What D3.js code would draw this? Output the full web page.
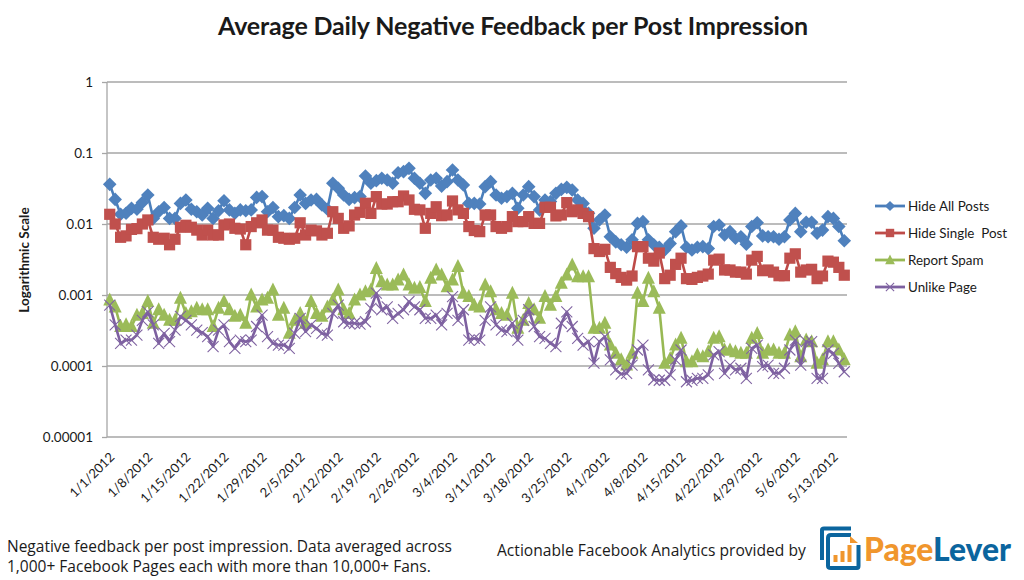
<!DOCTYPE html>
<html>
<head>
<meta charset="utf-8">
<script src="https://cdn.jsdelivr.net/npm/d3@7"></script>
<style>
  html, body { margin: 0; padding: 0; background: #fff; }
  svg { display: block; }
  text { font-family: Lato, "Open Sans", sans-serif; fill: #1a1a1a; }
  .note { font-family: "Open Sans", sans-serif; }
</style>
</head>
<body>
<svg id="chart" width="1024" height="580"></svg>
<script>
// values, one per day from 1/1/2012
const startDate = Date.UTC(2012, 0, 1);
const dayCount = 136;
const hideAllPosts = [
  .0362,.0222,.0137,.0142,.0166,.0161,.0201,.0256,.012,.0149,.0171,.012,.012,.0195,.0218,.0161,.0149,.0134,.0166,.012,
  .0154,.0213,.0158,.0142,.0158,.0154,.0158,.0237,.0243,.0149,.0171,.0127,.0131,.012,.0171,.0256,.0195,.0218,.0222,.0185,
  .0161,.0375,.0318,.0256,.0222,.0235,.0243,.0474,.0375,.0408,.044,.0417,.0375,.0528,.0546,.0608,.044,.0375,.027,.0417,
  .044,.0342,.0395,.0576,.0417,.0354,.0195,.0195,.0191,.0336,.0395,.0256,.023,.0243,.027,.0166,.0256,.0336,.0243,.0158,
  .0218,.0207,.027,.0307,.0328,.0301,.0218,.0195,.0142,.0087,.0114,.0134,.0066,.0056,.0051,.0047,.006,.0102,.0108,.006,
  .0051,.0047,.0043,.0053,.0078,.0094,.0047,.0043,.0047,.0048,.0045,.0092,.0097,.007,.0078,.0063,.0066,.0052,.0092,.0104,
  .0068,.0066,.0066,.0061,.0066,.0114,.0141,.0078,.0106,.0106,.0074,.0082,.0127,.012,.0092,.0058
];
const hideSinglePost = [
  .0137,.01,.0065,.0068,.0084,.0086,.01,.0114,.0065,.0061,.0063,.0051,.0061,.009,.0096,.009,.0082,.007,.0082,.007,
  .007,.0097,.01,.0087,.0085,.0051,.0092,.0104,.0114,.0082,.0082,.0065,.0063,.0061,.0063,.0104,.007,.0082,.008,.007,
  .0074,.0149,.012,.0087,.0094,.0134,.0146,.0196,.0141,.0243,.0191,.0191,.0206,.0206,.0248,.0218,.0161,.0158,.0087,.0141,
  .0175,.0131,.0134,.0211,.0158,.0141,.0092,.0081,.0078,.0134,.0134,.0092,.0087,.0092,.0127,.0108,.0108,.0127,.0102,.0102,
  .0172,.0172,.013,.0134,.02,.0149,.0158,.0141,.0127,.0045,.0041,.0044,.00245,.002,.00177,.00162,.00185,.0048,.0048,.0033,
  .003,.0039,.0017,.0019,.0027,.0033,.0017,.00166,.00177,.00185,.00197,.0031,.0032,.00225,.00225,.0021,.0021,.00197,.0031,.0035,
  .0022,.00225,.0021,.00187,.00187,.0033,.0038,.0021,.00225,.0023,.0017,.00185,.003,.0029,.00245,.0019
];
const reportSpam = [
  .00085,.00068,.00036,.00038,.00036,.00052,.00055,.00081,.0004,.00062,.00052,.00044,.00044,.0009,.00055,.00058,.00065,.00062,.00062,.00036,
  .00065,.00081,.00062,.0005,.00052,.0004,.001,.00068,.00085,.0009,.00118,.00052,.00065,.00029,.00044,.00055,.0004,.00081,.00055,.0005,
  .00068,.00085,.00118,.00062,.00055,.00085,.001,.00111,.00118,.00237,.00154,.00138,.00138,.00163,.00191,.00138,.00124,.00128,.00081,.00172,
  .00225,.00191,.00131,.00163,.00251,.00106,.00095,.00072,.00068,.00138,.00111,.00062,.00055,.00052,.00106,.00034,.00044,.00076,.00062,.00047,
  .00095,.00072,.00095,.00146,.00191,.00265,.00181,.00181,.00181,.00034,.00034,.0004,.000197,.000151,.000122,.000103,.000151,.00106,.00081,.00172,
  .00111,.00065,.000109,.000128,.000197,.000245,.000115,.000115,.000143,.000135,.000159,.000245,.000259,.000168,.000168,.000159,.000151,.000151,.000245,.000288,
  .000151,.000168,.000168,.000151,.000151,.000273,.000304,.000135,.000232,.00022,.000109,.000122,.00022,.00022,.000168,.000122
];
const unlikePage = [
  .00072,.00038,.000208,.000232,.000232,.000273,.00044,.00058,.00038,.000208,.000288,.00022,.000321,.0005,.00044,.00038,.000321,.000295,.000259,.000187,
  .000321,.00038,.00022,.000177,.000232,.00022,.000232,.00036,.00052,.000259,.000208,.000197,.000197,.000177,.000288,.00047,.000304,.00038,.00034,.000288,
  .000273,.00055,.00072,.00042,.0004,.0004,.00039,.00042,.00065,.00106,.00062,.00068,.00047,.00055,.00062,.00081,.00068,.00062,.00047,.00047,
  .00052,.00038,.00055,.00095,.00044,.00062,.000232,.000245,.000232,.00044,.00068,.00038,.000321,.000304,.0004,.000232,.00044,.00062,.00036,.000259,
  .000245,.000208,.000187,.0004,.00058,.00036,.000245,.000197,.00022,.00011,.00022,.000259,.000122,.000088,.000077,.000079,.000103,.000168,.000197,.000088,
  .000064,.000063,.000063,.000075,.000122,.000168,.00006,.000063,.000067,.000067,.000075,.000143,.000159,.000079,.000103,.000088,.000093,.000067,.000177,.000197,
  .000098,.000103,.000079,.000079,.000093,.000168,.000232,.000103,.00022,.00022,.000067,.000067,.000168,.000151,.000109,.000083
];
const seriesNames = ["Hide All Posts", "Hide Single  Post", "Report Spam", "Unlike Page"];
const seriesValues = [hideAllPosts, hideSinglePost, reportSpam, unlikePage];
const lineColors = ["#4a7ebb", "#be4b48", "#98b954", "#7d60a0"];
const markerColors = ["#4f81bd", "#c0504d", "#9bbb59", "#8064a2"];
const yTicks = [1, 0.1, 0.01, 0.001, 0.0001, 0.00001];
const yTickLabels = ["1", "0.1", "0.01", "0.001", "0.0001", "0.00001"];
const xTickLabels = ["1/1/2012","1/8/2012","1/15/2012","1/22/2012","1/29/2012","2/5/2012","2/12/2012","2/19/2012",
  "2/26/2012","3/4/2012","3/11/2012","3/18/2012","3/25/2012","4/1/2012","4/8/2012","4/15/2012","4/22/2012","4/29/2012",
  "5/6/2012","5/13/2012"];

const svg = d3.select("#chart");
const plotLeft = 107, plotRight = 847, plotTop = 82, plotBottom = 437;
const day = 86400000;

// band style: a point sits in the middle of its day
const x = d3.scaleUtc()
  .domain([new Date(startDate - day / 2), new Date(startDate + (dayCount - 0.5) * day)])
  .range([plotLeft, plotRight]);
const y = d3.scaleLog().domain([0.00001, 1]).range([plotBottom, plotTop]);
const dateOf = i => new Date(startDate + i * day);

svg.append("text").attr("x", 513).attr("y", 35).attr("text-anchor", "middle")
  .attr("font-size", 25).attr("font-weight", 700).attr("textLength", 590).text("Average Daily Negative Feedback per Post Impression");

// y axis and grid
const yAxis = svg.append("g").attr("transform", `translate(${plotLeft},0)`)
  .call(d3.axisLeft(y).tickValues(yTicks).tickSize(5).tickPadding(9).tickFormat((d, i) => yTickLabels[i]));
yAxis.select(".domain").attr("stroke", "#a6a6a6").attr("stroke-width", 1.3).attr("d", `M0,${plotTop}V${plotBottom}`);
yAxis.selectAll(".tick line").attr("stroke", "#a6a6a6").attr("stroke-width", 1.3);
yAxis.selectAll(".tick text").attr("font-size", 13.5).attr("font-family", "Lato").attr("fill", "#222");
svg.append("g").selectAll("line").data(yTicks).join("line")
  .attr("x1", plotLeft).attr("x2", plotRight).attr("y1", d => y(d)).attr("y2", d => y(d))
  .attr("stroke", "#a6a6a6").attr("stroke-width", 1.3);

// x axis, labels only, slanted
const xAxis = svg.append("g").attr("transform", `translate(0,${plotBottom})`)
  .call(d3.axisBottom(x).tickValues(xTickLabels.map((d, i) => dateOf(i * 7))).tickSize(0).tickFormat((d, i) => xTickLabels[i]));
xAxis.select(".domain").remove();
xAxis.selectAll(".tick text")
  .attr("font-size", 13).attr("font-family", "Lato").attr("fill", "#222")
  .attr("text-anchor", "end").attr("y", 0).attr("dx", 0).attr("dy", 0)
  .attr("transform", "translate(5,21) rotate(-45)");

svg.append("text").attr("transform", "translate(29,260) rotate(-90)").attr("text-anchor", "middle")
  .attr("font-size", 13.5).attr("font-weight", 700).text("Logarithmic Scale");

// marker for a series, drawn around 0,0
function marker(sel, s, scale) {
  const k = scale || 1;
  if (s == 0) {
    sel.append("path").attr("d", `M0,${-6.8 * k}L${6.8 * k},0L0,${6.8 * k}L${-6.8 * k},0Z`).attr("fill", markerColors[0]);
  } else if (s == 1) {
    sel.append("rect").attr("x", -5.6 * k).attr("y", -5.6 * k).attr("width", 11.2 * k).attr("height", 11.2 * k)
      .attr("fill", markerColors[1]);
  } else if (s == 2) {
    sel.append("path").attr("d", `M0,${-7.5 * k}L${6.5 * k},${5.5 * k}L${-6.5 * k},${5.5 * k}Z`).attr("fill", markerColors[2]);
  } else {
    sel.append("path").attr("d", `M${-5.5 * k},${-5.5 * k}L${5.5 * k},${5.5 * k}M${5.5 * k},${-5.5 * k}L${-5.5 * k},${5.5 * k}`)
      .attr("stroke", markerColors[3]).attr("stroke-width", 1.1).attr("fill", "none");
  }
}

const line = d3.line().x((d, i) => x(dateOf(i))).y(d => y(d));
seriesValues.forEach((values, s) => {
  const g = svg.append("g");
  g.append("path").attr("d", line(values)).attr("fill", "none")
    .attr("stroke", lineColors[s]).attr("stroke-width", 2.6).attr("stroke-linejoin", "round");
  g.selectAll("g").data(values).join("g")
    .attr("transform", (d, i) => `translate(${x(dateOf(i))},${y(d)})`)
    .each(function() { marker(d3.select(this), s); });
});

// legend
const legendY = d3.scalePoint().domain(seriesNames).range([206, 287]);
seriesNames.forEach((name, s) => {
  const ly = legendY(name);
  svg.append("line").attr("x1", 875).attr("x2", 905).attr("y1", ly).attr("y2", ly)
    .attr("stroke", lineColors[s]).attr("stroke-width", 2.8);
  marker(svg.append("g").attr("transform", `translate(890,${ly})`), s, 0.75);
  svg.append("text").attr("x", 908).attr("y", ly + 5).attr("font-size", 13.4)
    .style("white-space", "pre").text(name);
});

// footer notes
svg.append("text").attr("class", "note").attr("x", 7).attr("y", 552).attr("font-size", 15.5)
  .text("Negative feedback per post impression. Data averaged across");
svg.append("text").attr("class", "note").attr("x", 7).attr("y", 572).attr("font-size", 15.5)
  .text("1,000+ Facebook Pages each with more than 10,000+ Fans.");
svg.append("text").attr("class", "note").attr("x", 497).attr("y", 556).attr("font-size", 15.6)
  .text("Actionable Facebook Analytics provided by");

// PageLever logo
const logo = svg.append("g");
const logoBlue = "#0b659e", logoOrange = "#f0962d";
logo.append("path").attr("d", "M822,560V530Q822,528.5,824,528.5H851")
  .attr("fill", "none").attr("stroke", logoBlue).attr("stroke-width", 4);
logo.append("path").attr("d", "M851,535H831Q828,535,828,538V566Q828,568,831,568H857Q858.5,568,858.5,566V545")
  .attr("fill", "none").attr("stroke", logoBlue).attr("stroke-width", 4);
logo.append("path").attr("d", "M850,536L858,543H850Z").attr("fill", logoOrange);
logo.selectAll("rect").data([[833.5, 555, 4, 7], [840.5, 551, 4, 11], [847.5, 545, 4, 17]]).join("rect")
  .attr("x", d => d[0]).attr("y", d => d[1]).attr("width", d => d[2]).attr("height", d => d[3]).attr("fill", logoOrange);
const logoText = logo.append("text").attr("x", 864).attr("y", 561).attr("font-size", 33).attr("font-weight", 900)
  .attr("font-family", "Lato").attr("textLength", 147).attr("lengthAdjust", "spacingAndGlyphs");
logoText.append("tspan").style("fill", logoOrange).text("Page");
logoText.append("tspan").style("fill", logoBlue).text("Lever");
</script>
</body>
</html>
